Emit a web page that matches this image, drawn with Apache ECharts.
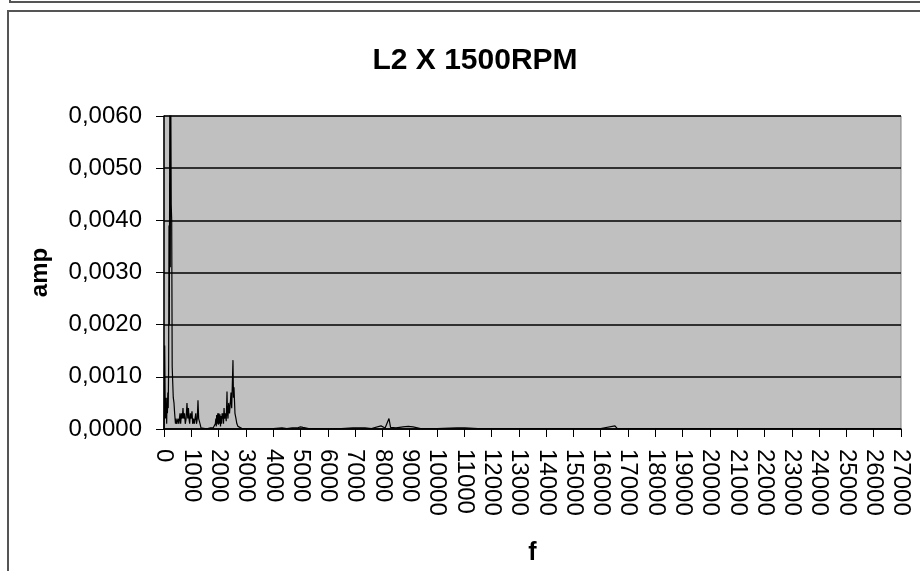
<!DOCTYPE html>
<html>
<head>
<meta charset="utf-8">
<script src="https://cdn.jsdelivr.net/npm/echarts@6/dist/echarts.min.js"></script>
<style>
  html, body { margin: 0; padding: 0; background: #fff; }
  #chart { width: 920px; height: 571px; }
</style>
</head>
<body>
<div id="chart"></div>
<script>
// spectrum: frequency (f) and amplitude (amp)
const freqs = [
    0, 12, 25, 37, 48, 60, 72, 85, 98, 110, 125, 140, 155, 170, 183, 195, 215, 230, 245, 265,
    282, 300, 319, 340, 366, 390, 420, 440, 470, 500, 513, 545, 586, 610, 640, 670, 696, 720, 750, 780,
    810, 842, 870, 895, 916, 940, 965, 990, 1026, 1050, 1080, 1110, 1136, 1165, 1190, 1220, 1245, 1270, 1300, 1330,
    1355, 1400, 1500, 1600, 1700, 1750, 1800, 1850, 1880, 1900, 1915, 1930, 1950, 1970, 1990, 2010, 2030, 2050, 2070, 2090,
    2110, 2130, 2150, 2161, 2180, 2200, 2220, 2250, 2280, 2308, 2325, 2344, 2370, 2400, 2430, 2454, 2480, 2500, 2527, 2545,
    2564, 2600, 2637, 2670, 2711, 2760, 2857, 3000, 3500, 4000, 4322, 4500, 4700, 4872, 5000, 5092, 5300, 5600, 6000, 6500,
    6923, 7150, 7363, 7600, 7949, 8100, 8242, 8300, 8500, 8755, 8950, 9121, 9400, 10000, 10733, 11026, 11500, 12500, 14000, 16000,
    16520, 16600, 18000, 20000, 22000, 24000, 26000, 27000
];
const amps = [
    0.0000, 0.0003, 0.0016, 0.0016, 0.0002, 0.0006, 0.0002, 0.0005, 0.0001, 0.0006, 0.0003, 0.0007, 0.0004, 0.0012, 0.0039, 0.0020, 0.0068, 0.0031, 0.0069, 0.0043,
    0.0040, 0.0012, 0.0009, 0.0006, 0.0005, 0.0003, 0.0001, 0.0002, 0.0001, 0.0001, 0.0002, 0.0001, 0.0003, 0.0001, 0.0003, 0.0002, 0.0004, 0.0002, 0.0003, 0.0001,
    0.0002, 0.0005, 0.0002, 0.0004, 0.0002, 0.0001, 0.0003, 0.0002, 0.00034, 0.0001, 0.0002, 0.0001, 0.0002, 0.0003, 0.0001, 0.0002, 0.00055, 0.0002, 0.0002, 0.00008,
    0.00002, 0.00001, 0.00001, 0.00001, 0.00002, 0.00001, 0.00002, 0.00005, 0.0001, 0.0002, 0.00005, 0.00027, 0.0001, 0.0003, 0.00008, 0.0003, 0.0001, 0.00028, 0.00005, 0.00025,
    0.0001, 0.0003, 0.0002, 0.0003, 0.0001, 0.0004, 0.0002, 0.0003, 0.00015, 0.00072, 0.0003, 0.0002, 0.0005, 0.0003, 0.0005, 0.0007, 0.0004, 0.0008, 0.00132, 0.0006,
    0.0008, 0.0003, 0.0002, 0.0001, 0.00005, 0.00003, 0.00001, 0.00001, 0.0, 0.00001, 0.00002, 0.00001, 0.00002, 0.00002, 0.00004, 0.00003, 0.00001, 0.00001, 0.0, 0.00001,
    0.00002, 0.00002, 0.00002, 0.00001, 0.00006, 0.00002, 0.0002, 0.00003, 0.00002, 0.00004, 0.00005, 0.00004, 0.00001, 0.00001, 0.00002, 0.00002, 0.00001, 0.00001, 0.00001, 0.00001,
    0.00006, 0.00001, 0.00001, 0.00001, 0.00001, 0.00001, 0.00001, 0.00001
];

const font = 'Liberation Sans, Arial, sans-serif';
const chart = echarts.init(document.getElementById('chart'));

const option = {
    backgroundColor: '#fff',
    animation: false,
    title: {
        text: 'L2 X 1500RPM',
        left: 470,
        top: 41,
        textAlign: 'center',
        textStyle: { fontFamily: font, fontSize: 30, fontWeight: 'bold', color: '#000' }
    },
    // frame of the chart and the edge of the one above it
    graphic: [
        {
            type: 'rect',
            shape: { x: 8, y: 11, width: 940, height: 600 },
            style: { fill: null, stroke: '#555', lineWidth: 2 },
            silent: true
        },
        {
            type: 'polyline',
            shape: { points: [[10, 0], [10, 2], [920, 2]] },
            style: { fill: null, stroke: '#555', lineWidth: 2 },
            silent: true
        }
    ],
    grid: {
        left: 164,
        right: 19,
        top: 116,
        bottom: 138,
        show: true,
        backgroundColor: '#c0c0c0',
        borderColor: '#808080',
        borderWidth: 1
    },
    xAxis: {
        type: 'value',
        min: 0,
        max: 27000,
        interval: 1000,
        name: 'f',
        nameLocation: 'middle',
        nameGap: 112,
        nameTextStyle: { fontFamily: font, fontSize: 25, fontWeight: 'bold', color: '#000' },
        axisLine: { onZero: false, lineStyle: { color: '#000', width: 1.5 } },
        axisTick: { show: true, length: 8, lineStyle: { color: '#000' } },
        axisLabel: {
            rotate: -90,
            margin: 20,
            fontFamily: font,
            fontSize: 24,
            color: '#000',
            showMinLabel: true,
            showMaxLabel: true,
            formatter: function (v) { return String(v); }
        },
        splitLine: { show: false }
    },
    yAxis: {
        type: 'value',
        min: 0,
        max: 0.006,
        interval: 0.001,
        name: 'amp',
        nameLocation: 'middle',
        nameGap: 112,
        nameRotate: 90,
        nameTextStyle: { fontFamily: font, fontSize: 24, fontWeight: 'bold', color: '#000' },
        axisLine: { show: true, lineStyle: { color: '#000', width: 1.5 } },
        axisTick: { show: true, length: 8, lineStyle: { color: '#000' } },
        axisLabel: {
            margin: 22,
            fontFamily: font,
            fontSize: 24,
            color: '#000',
            formatter: function (v) {
                return v.toFixed(4).replace('.', ',');
            }
        },
        splitLine: { show: true, lineStyle: { color: '#000', width: 1.5 } }
    },
    series: [
        {
            type: 'line',
            data: freqs.map(function (f, i) { return [f, amps[i]]; }),
            showSymbol: false,
            symbol: 'none',
            clip: true,
            lineStyle: { color: '#000', width: 1.2 }
        }
    ]
};

chart.setOption(option);
</script>
</body>
</html>
